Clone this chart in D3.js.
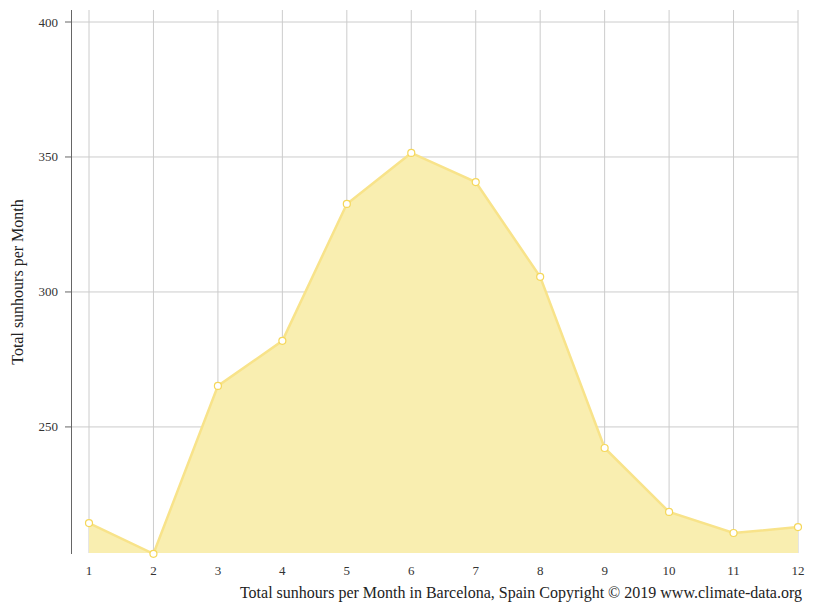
<!DOCTYPE html>
<html><head><meta charset="utf-8">
<script src="https://cdn.jsdelivr.net/npm/d3@7/dist/d3.min.js"></script>
<style>body{margin:0;background:#fff}</style></head>
<body><svg id="c" width="815" height="611"></svg>
<script>
const months=[1,2,3,4,5,6,7,8,9,10,11,12];
const sunhours=[214.4,203,265.2,281.9,332.6,351.5,340.7,305.6,242.2,218.5,210.7,212.9];
const yTicks=[250,300,350,400];
const svg=d3.select("#c");
const font="Liberation Serif, Times New Roman, serif";
const x=d3.scaleLinear().domain([1,12]).range([89,798]);
const y=d3.scaleLinear().domain([203.3,400]).range([553,22]);
// grid
svg.selectAll(".vg").data(months).enter().append("line")
 .attr("x1",d=>x(d)).attr("x2",d=>x(d)).attr("y1",10).attr("y2",553)
 .attr("stroke","#ccc").attr("stroke-width",1);
svg.selectAll(".hg").data(yTicks).enter().append("line")
 .attr("x1",72).attr("x2",798).attr("y1",d=>y(d)).attr("y2",d=>y(d))
 .attr("stroke","#ccc").attr("stroke-width",1);
// area
svg.append("path").datum(months).attr("d",d3.area().x(d=>x(d)).y0(553).y1((d,i)=>y(sunhours[i])))
 .attr("fill","#f9eeb0");
svg.append("path").datum(months).attr("d",d3.line().x(d=>x(d)).y((d,i)=>y(sunhours[i])))
 .attr("fill","none").attr("stroke","#f8e38a").attr("stroke-width",2.5);
svg.selectAll(".pt").data(months).enter().append("circle")
 .attr("cx",d=>x(d)).attr("cy",(d,i)=>y(sunhours[i])).attr("r",3.5)
 .attr("fill","#fff").attr("stroke","#f5d75a").attr("stroke-width",1.2);
// y axis
svg.append("line").attr("x1",71.5).attr("x2",71.5).attr("y1",10).attr("y2",554).attr("stroke","#666");
svg.selectAll(".yt").data(yTicks).enter().append("line")
 .attr("x1",65).attr("x2",71).attr("y1",d=>y(d)).attr("y2",d=>y(d)).attr("stroke","#666");
svg.selectAll(".yl").data(yTicks).enter().append("text")
 .attr("x",58).attr("y",d=>y(d)+4.5).attr("text-anchor","end")
 .attr("font-family",font).attr("font-size",13).attr("fill","#333").text(d=>d);
svg.selectAll(".xl").data(months).enter().append("text")
 .attr("x",d=>x(d)).attr("y",575).attr("text-anchor","middle")
 .attr("font-family",font).attr("font-size",13).attr("fill","#333").text(d=>d);
svg.append("text").attr("transform","translate(23,282) rotate(-90)").attr("text-anchor","middle")
 .attr("font-family",font).attr("font-size",16).attr("fill","#222").text("Total sunhours per Month");
svg.append("text").attr("x",802).attr("y",598).attr("text-anchor","end")
 .attr("font-family",font).attr("font-size",16).attr("fill","#222")
 .text("Total sunhours per Month in Barcelona, Spain Copyright © 2019 www.climate-data.org");
</script></body></html>
